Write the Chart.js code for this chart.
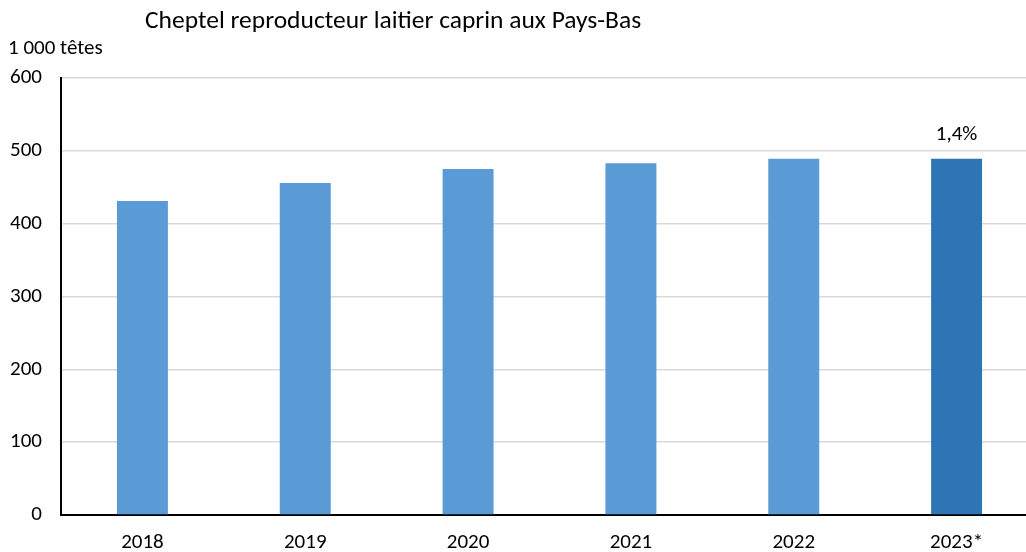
<!DOCTYPE html>
<html>
<head>
<meta charset="utf-8">
<script src="https://cdn.jsdelivr.net/npm/chart.js@4.4.1/dist/chart.umd.min.js"></script>
<style>
  html, body { margin:0; padding:0; background:#fff; overflow:hidden; width:1026px; height:552px; }
  #wrap { position:relative; width:1038px; height:552px; }
  #title { position:absolute; left:145px; top:4px; font-family: Carlito, Lato, sans-serif; font-size:25.5px; line-height:32px; color:#000; white-space:nowrap; }
  #unit { position:absolute; left:8px; top:34px; font-family: Carlito, Lato, sans-serif; font-size:21px; line-height:26px; color:#000; white-space:nowrap; }
  canvas { position:absolute; left:0; top:0; }
</style>
</head>
<body>
<div id="wrap">
  <canvas id="c" width="1038" height="552"></canvas>
  <div id="title">Cheptel reproducteur laitier caprin aux Pays-Bas</div>
  <div id="unit">1 000 têtes</div>
</div>
<script>
const categories = ['2018', '2019', '2020', '2021', '2022', '2023*'];
const values = [431, 456, 475, 483, 489, 489];
const barColors = ['#5B9BD5', '#5B9BD5', '#5B9BD5', '#5B9BD5', '#5B9BD5', '#2E75B6'];
const barLabels = ['', '', '', '', '', '1,4%'];
const yTicks = [0, 100, 200, 300, 400, 500, 600];

const FONT = 'Carlito, Lato, sans-serif';

const labelPlugin = {
  id: 'barLabels',
  afterDatasetsDraw(chart) {
    const ctx = chart.ctx;
    const meta = chart.getDatasetMeta(0);
    ctx.save();
    ctx.font = '21px ' + FONT;
    ctx.fillStyle = '#000';
    ctx.textAlign = 'center';
    ctx.textBaseline = 'middle';
    meta.data.forEach((bar, i) => {
      if (barLabels[i]) ctx.fillText(barLabels[i], bar.x, bar.y - 24);
    });
    ctx.restore();
  }
};

new Chart(document.getElementById('c'), {
  type: 'bar',
  data: {
    labels: categories,
    datasets: [{
      data: values,
      backgroundColor: barColors,
      barPercentage: 0.313,
      categoryPercentage: 1.0
    }]
  },
  options: {
    responsive: false,
    animation: false,
    layout: { padding: { top: 78, left: 0, right: 0, bottom: 0 } },
    plugins: { legend: { display: false }, tooltip: { enabled: false }, title: { display: false } },
    scales: {
      x: {
        afterFit(scale) { scale.height = 37; },
        grid: { display: false, drawTicks: false },
        border: { display: true, color: '#000', width: 2 },
        ticks: { color: '#000', font: { family: FONT, size: 21, lineHeight: 1.2 }, padding: 15 }
      },
      y: {
        min: 0, max: 600,
        afterBuildTicks(scale) { scale.ticks = yTicks.map(v => ({ value: v })); },
        afterFit(scale) { scale.width = 61; },
        grid: { color: '#D9D9D9', lineWidth: 1.5, drawTicks: false },
        border: { display: true, color: '#000', width: 2 },
        ticks: { color: '#000', font: { family: FONT, size: 21 }, padding: 19 }
      }
    }
  },
  plugins: [labelPlugin]
});
</script>
</body>
</html>
